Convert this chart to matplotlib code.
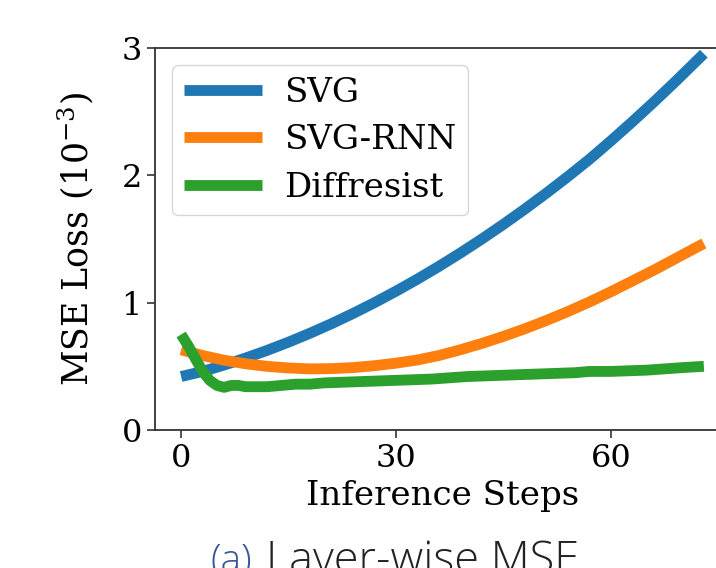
import matplotlib
matplotlib.use("Agg")
import matplotlib.pyplot as plt

# ---- data ----
svg_steps = [0, 3, 6, 9, 12, 15, 18, 21, 24, 27, 30, 33, 36, 39, 42, 45, 48, 51, 54, 57, 60, 63, 66, 69, 72, 73]
svg_vals = [0.42, 0.46, 0.51, 0.565, 0.625, 0.69, 0.76, 0.835, 0.915, 1.00, 1.09, 1.185, 1.285, 1.39, 1.50,
            1.615, 1.735, 1.86, 1.99, 2.125, 2.27, 2.42, 2.575, 2.735, 2.90, 2.955]

rnn_steps = [0, 3, 6, 9, 12, 15, 18, 21, 24, 27, 30, 33, 36, 39, 42, 45, 48, 51, 54, 57, 60, 63, 66, 69, 72, 73]
rnn_vals = [0.63, 0.585, 0.548, 0.52, 0.50, 0.487, 0.48, 0.482, 0.49, 0.505, 0.525, 0.55, 0.585, 0.63, 0.68,
            0.735, 0.795, 0.86, 0.93, 1.005, 1.085, 1.17, 1.255, 1.345, 1.435, 1.465]

dif_steps = [0, 1, 2, 3, 4, 5, 6, 7, 8, 9, 10, 12, 14, 16, 18, 20, 25, 30, 35, 40, 45, 50, 55, 57, 60, 65, 70, 73]
dif_vals = [0.75, 0.66, 0.56, 0.46, 0.39, 0.35, 0.335, 0.35, 0.35, 0.34, 0.34, 0.34, 0.35, 0.36, 0.36, 0.37,
            0.38, 0.39, 0.40, 0.42, 0.43, 0.44, 0.45, 0.46, 0.46, 0.47, 0.49, 0.50]

labels = ["SVG", "SVG-RNN", "Diffresist"]
colors = ["#1f77b4", "#ff7f0e", "#2ca02c"]
xticks = [0, 30, 60]
yticks = [0, 1, 2, 3]

plt.rcParams['font.family'] = ['DejaVu Serif']
plt.rcParams['mathtext.fontset'] = 'dejavuserif'

W, H = 716, 568
fig = plt.figure(figsize=(W / 100, H / 100), dpi=100)
ax = fig.add_axes([155 / W, (H - 430) / H, (730 - 155) / W, (430 - 48) / H])

lw = 7.8
ax.plot(svg_steps, svg_vals, color=colors[0], lw=lw, label=labels[0], solid_capstyle='butt')
ax.plot(rnn_steps, rnn_vals, color=colors[1], lw=lw, label=labels[1], solid_capstyle='butt')
ax.plot(dif_steps, dif_vals, color=colors[2], lw=lw, label=labels[2], solid_capstyle='butt')

ax.set_xlim(-3.65, 76.65)
ax.set_ylim(0, 3)
ax.set_xticks(xticks)
ax.set_yticks(yticks)
ax.tick_params(labelsize=23, length=6, width=1.2, color='#333333')
for s in ax.spines.values():
    s.set_color('#333333')
    s.set_linewidth(1.3)
ax.set_xlabel("Inference Steps", fontsize=24.5, labelpad=4)
ax.set_ylabel(r"MSE Loss ($10^{-3}$)", fontsize=25, labelpad=18)

leg = ax.legend(loc='upper left', fontsize=24.5, handlelength=2.3, borderpad=0.35,
                labelspacing=0.45, handletextpad=0.65, borderaxespad=0.5)

fig.text(210 / W, 1 - 572 / H, "(a)", color="#3a5794", fontsize=28,
         family="Open Sans", weight="light", ha="left", va="baseline")
fig.text(266 / W, 1 - 573 / H, "Layer-wise MSE", color="#222222", fontsize=32.5,
         family="Open Sans", weight="light", ha="left", va="baseline")

fig.savefig("out.png", dpi=100)
